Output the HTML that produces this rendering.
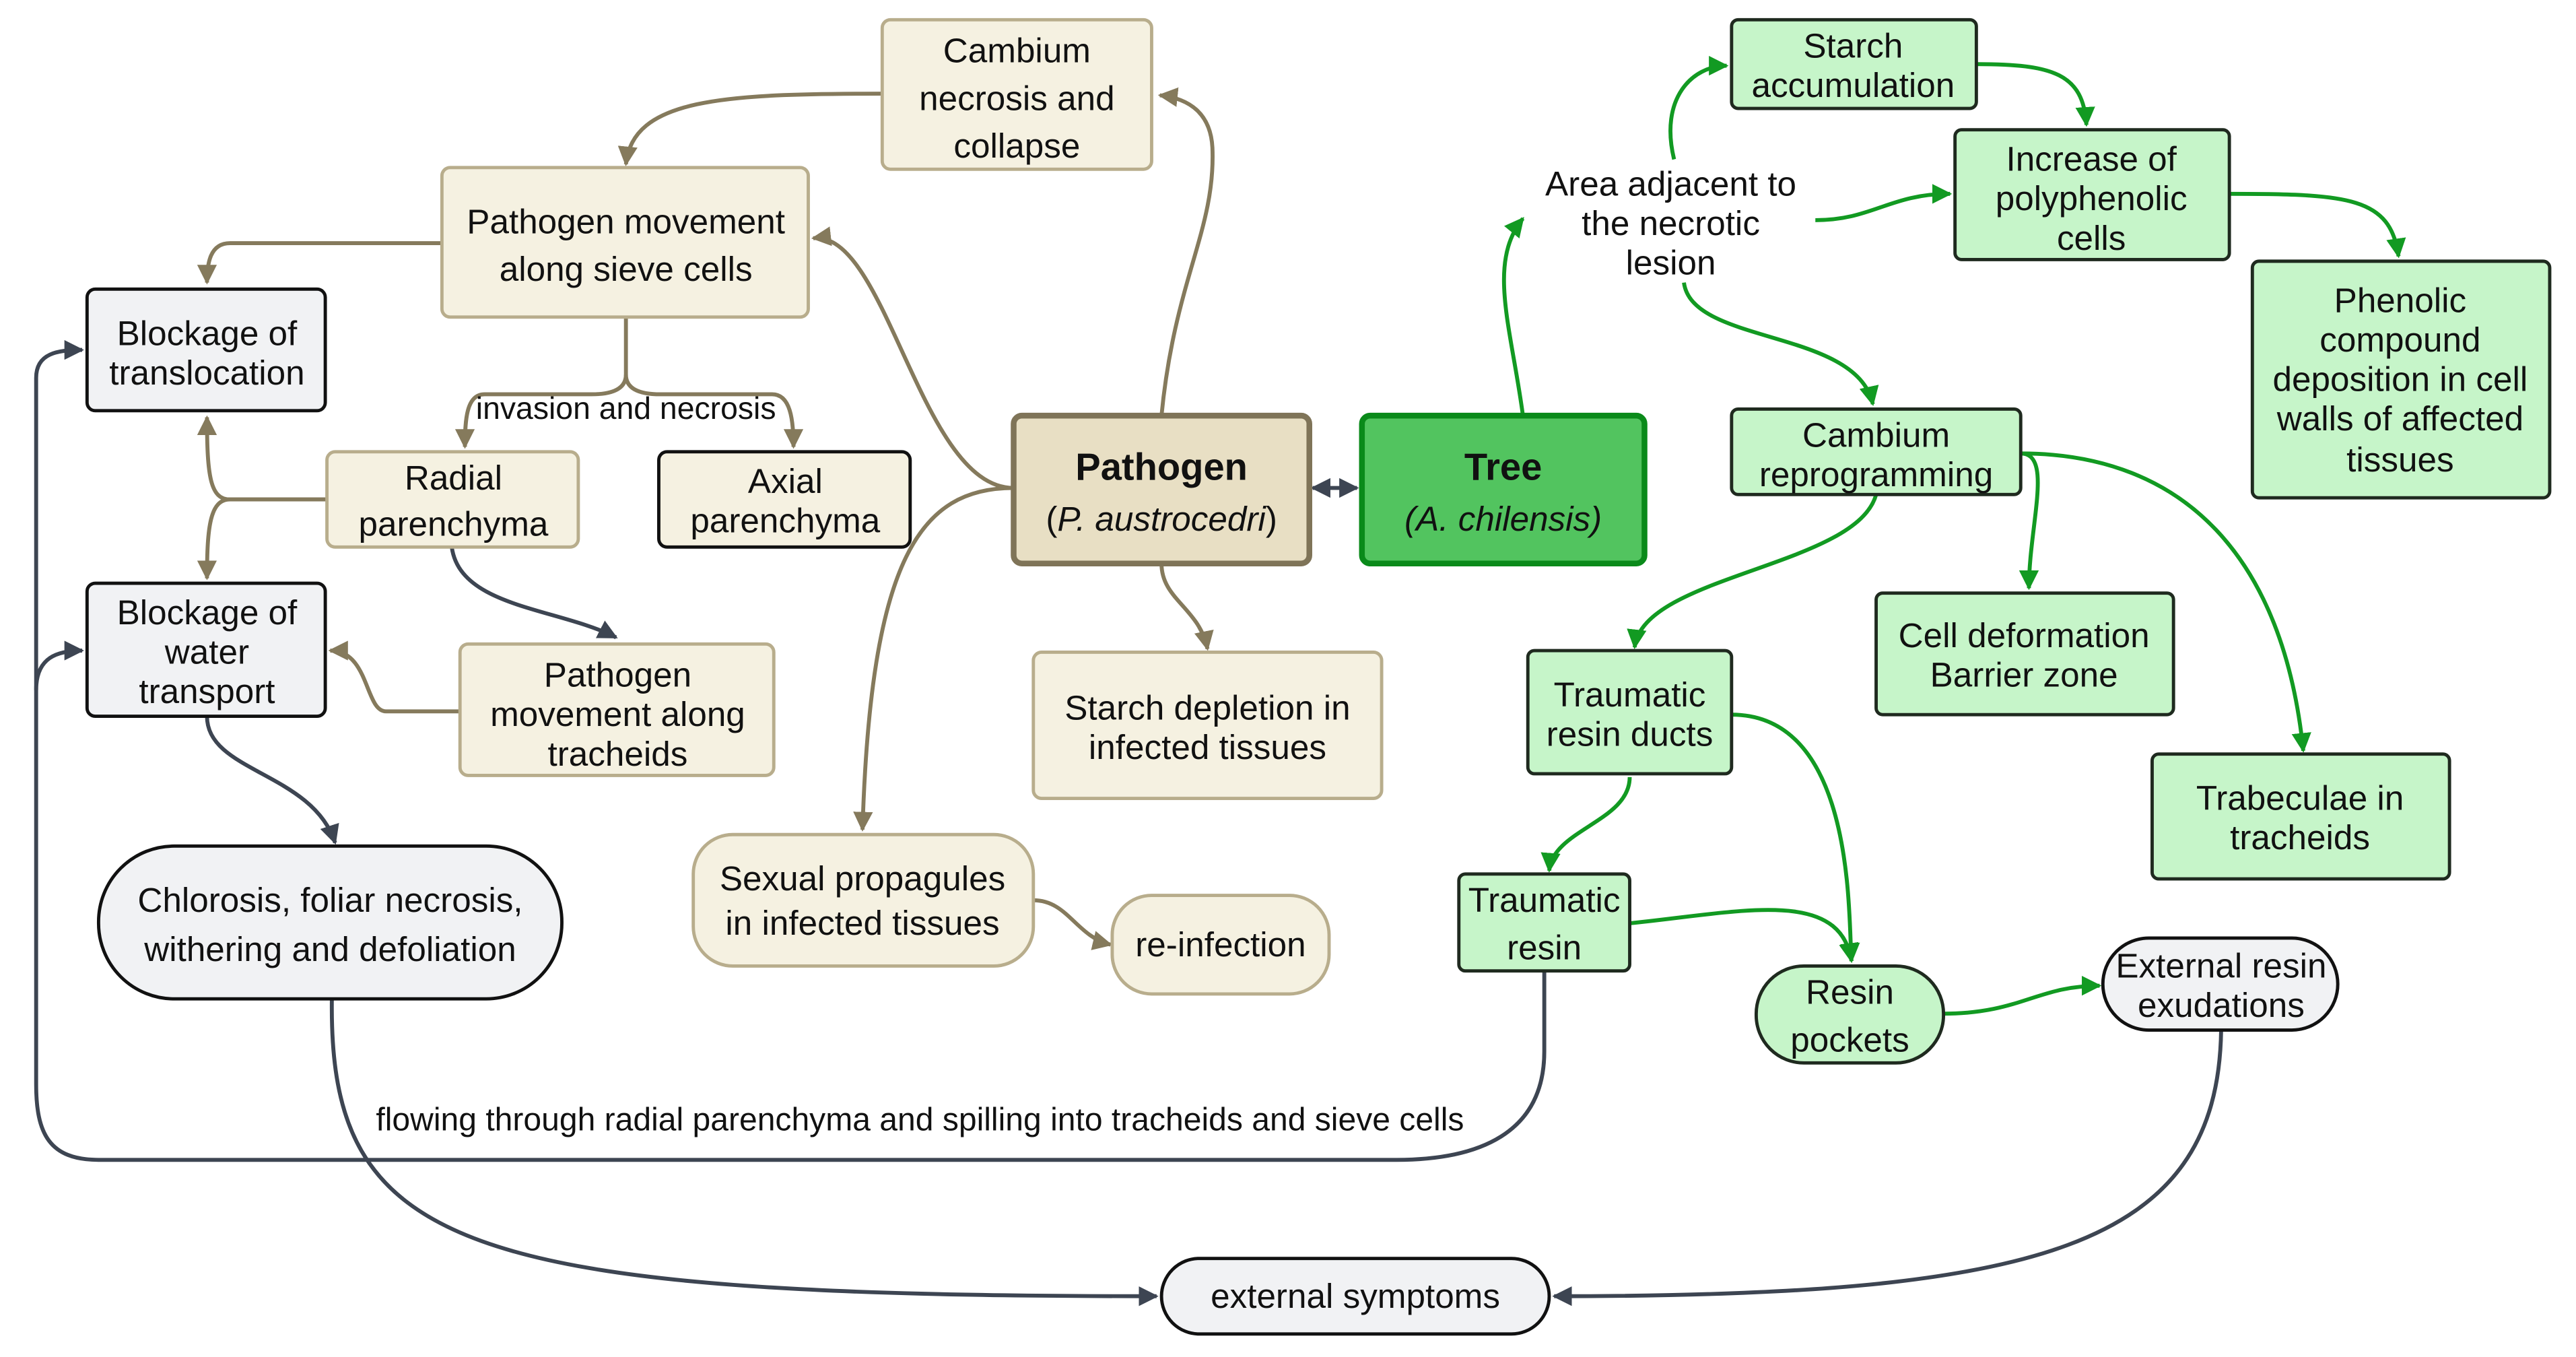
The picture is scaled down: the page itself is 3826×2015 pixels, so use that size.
<!DOCTYPE html>
<html><head><meta charset="utf-8"><style>
html,body{margin:0;padding:0;background:#fff;}
svg{display:block;}
text{font-family:"Liberation Sans",sans-serif;font-size:21px;fill:#111;text-anchor:middle;}
</style></head><body>
<svg width="3826" height="2015" viewBox="0 0 1568 826" preserveAspectRatio="none" xmlns="http://www.w3.org/2000/svg">
<defs>
<marker id="t" viewBox="0 0 10 10" refX="9" refY="5" markerWidth="5" markerHeight="5" orient="auto-start-reverse"><path d="M0,0 L10,5 L0,10 z" fill="#857a5c"/></marker>
<marker id="g" viewBox="0 0 10 10" refX="9" refY="5" markerWidth="5" markerHeight="5" orient="auto-start-reverse"><path d="M0,0 L10,5 L0,10 z" fill="#129a22"/></marker>
<marker id="d" viewBox="0 0 10 10" refX="9" refY="5" markerWidth="5" markerHeight="5" orient="auto-start-reverse"><path d="M0,0 L10,5 L0,10 z" fill="#3d4552"/></marker>
</defs>
<g fill="none" stroke-width="2.4">
<g stroke="#857a5c" marker-end="url(#t)">
<path d="M537,57 C440,57 385,60 381,100"/>
<path d="M707,253 C715,170 740,140 738,90 C737,70 725,60 706,58"/>
<path d="M617,297 C560,297 540,140 495,145"/>
<path d="M269,148 L140,148 C128,148 126,160 126,172"/>
<path d="M381,193 L381,228 C381,238 370,240 360,240 L295,240 C284,240 283,255 283,272"/>
<path d="M381,228 C381,238 392,240 402,240 L470,240 C481,240 483,255 483,272"/>
<path d="M199,304 L140,304 C128,304 126,290 126,254"/>
<path d="M199,304 L140,304 C128,304 126,320 126,352"/>
<path d="M280,433 L235,433 C222,433 225,396 201,396"/>
<path d="M617,297 C560,297 530,340 525,505"/>
<path d="M707,343 C707,365 730,370 735,395"/>
<path d="M629,548 C650,548 655,570 676,575"/>
</g>
<g stroke="#3d4552">
<path d="M275,333 C280,370 340,370 375,388" marker-end="url(#d)"/>
<path d="M126,436 C126,470 190,470 204,513" marker-end="url(#d)"/>
<path d="M940,591 L940,640 C940,690 900,706 850,706 L60,706 C30,706 22,690 22,660 L22,230 C22,215 35,213 50,213" marker-end="url(#d)"/>
<path d="M22,420 C22,400 35,396 50,396" marker-end="url(#d)"/>
<path d="M202,608 C200,760 280,789 704,789" marker-end="url(#d)"/>
<path d="M1352,627 C1350,760 1240,789 946,789" marker-end="url(#d)"/>
<path d="M799,297 L826,297" marker-start="url(#d)" marker-end="url(#d)"/>
</g>
<g stroke="#129a22" marker-end="url(#g)">
<path d="M927,253 C920,200 905,160 927,133"/>
<path d="M1019,97 C1010,60 1030,40 1051,40"/>
<path d="M1203,39 C1250,39 1268,45 1270,76"/>
<path d="M1105,134 C1140,134 1150,118 1187,118"/>
<path d="M1357,118 C1430,118 1455,120 1460,156"/>
<path d="M1025,172 C1030,210 1130,200 1140,246"/>
<path d="M1142,301 C1130,345 1000,350 995,394"/>
<path d="M1230,276 C1250,276 1235,320 1235,358"/>
<path d="M1230,276 C1330,276 1390,340 1402,457"/>
<path d="M992,473 C992,500 945,505 943,530"/>
<path d="M1054,435 C1130,435 1125,560 1127,585"/>
<path d="M992,562 C1060,555 1120,540 1127,585"/>
<path d="M1183,617 C1230,617 1240,600 1278,600"/>
</g>
</g>
<g fill="#f5f1e1" stroke="#b8ad8c" stroke-width="2">
<rect x="537" y="12" width="164" height="91" rx="5"/>
<rect x="269" y="102" width="223" height="91" rx="5"/>
<rect x="199" y="275" width="153" height="58" rx="5"/>
<rect x="280" y="392" width="191" height="80" rx="5"/>
<rect x="629" y="397" width="212" height="89" rx="5"/>
<rect x="422" y="508" width="207" height="80" rx="24"/>
<rect x="677" y="545" width="132" height="60" rx="24"/>
</g>
<rect x="401" y="275" width="153" height="58" rx="5" fill="#f5f1e1" stroke="#111" stroke-width="2"/>
<rect x="617" y="253" width="180" height="90" rx="5" fill="#e8dfc4" stroke="#7f7458" stroke-width="3.5"/>
<rect x="829" y="253" width="172" height="90" rx="5" fill="#52c45f" stroke="#0a8a1a" stroke-width="3.5"/>
<g fill="#f1f2f4" stroke="#111" stroke-width="2">
<rect x="53" y="176" width="145" height="74" rx="5"/>
<rect x="53" y="355" width="145" height="81" rx="5"/>
<rect x="60" y="515" width="282" height="93" rx="46"/>
<rect x="707" y="766" width="236" height="46" rx="23"/>
<rect x="1280" y="571" width="143" height="56" rx="28"/>
</g>
<g fill="#c6f5c9" stroke="#1f2a1f" stroke-width="2">
<rect x="1054" y="12" width="149" height="54" rx="4"/>
<rect x="1190" y="79" width="167" height="79" rx="4"/>
<rect x="1371" y="159" width="181" height="144" rx="4"/>
<rect x="1054" y="249" width="176" height="52" rx="4"/>
<rect x="1142" y="361" width="181" height="74" rx="4"/>
<rect x="930" y="396" width="124" height="75" rx="4"/>
<rect x="1310" y="459" width="181" height="76" rx="4"/>
<rect x="888" y="532" width="104" height="59" rx="4"/>
<rect x="1069" y="588" width="114" height="59" rx="29"/>
</g>
<text x="619" y="38">Cambium</text><text x="619" y="67">necrosis and</text><text x="619" y="96">collapse</text>
<text x="381" y="142">Pathogen movement</text><text x="381" y="171">along sieve cells</text>
<text x="126" y="210">Blockage of</text><text x="126" y="234">translocation</text>
<text x="381" y="255" style="font-size:19px">invasion and necrosis</text>
<text x="276" y="298">Radial</text><text x="276" y="326">parenchyma</text>
<text x="478" y="300">Axial</text><text x="478" y="324">parenchyma</text>
<text x="126" y="380">Blockage of</text><text x="126" y="404">water</text><text x="126" y="428">transport</text>
<text x="376" y="418">Pathogen</text><text x="376" y="442">movement along</text><text x="376" y="466">tracheids</text>
<text x="707" y="292" style="font-weight:bold;font-size:23px">Pathogen</text>
<text x="707" y="323">(<tspan font-style="italic">P. austrocedri</tspan>)</text>
<text x="915" y="292" style="font-weight:bold;font-size:23px">Tree</text>
<text x="915" y="323" font-style="italic">(A. chilensis)</text>
<text x="735" y="438">Starch depletion in</text><text x="735" y="462">infected tissues</text>
<text x="525" y="542">Sexual propagules</text><text x="525" y="569">in infected tissues</text>
<text x="743" y="582">re-infection</text>
<text x="201" y="555">Chlorosis, foliar necrosis,</text><text x="201" y="585">withering and defoliation</text>
<text x="825" y="796">external symptoms</text>
<text x="560" y="688" style="font-size:19.7px">flowing through radial parenchyma and spilling into tracheids and sieve cells</text>
<text x="1017" y="119">Area adjacent to</text><text x="1017" y="143">the necrotic</text><text x="1017" y="167">lesion</text>
<text x="1128" y="35">Starch</text><text x="1128" y="59">accumulation</text>
<text x="1273" y="104">Increase of</text><text x="1273" y="128">polyphenolic</text><text x="1273" y="152">cells</text>
<text x="1461" y="190">Phenolic</text><text x="1461" y="214">compound</text><text x="1461" y="238">deposition in cell</text><text x="1461" y="262">walls of affected</text><text x="1461" y="287">tissues</text>
<text x="1142" y="272">Cambium</text><text x="1142" y="296">reprogramming</text>
<text x="1232" y="394">Cell deformation</text><text x="1232" y="418">Barrier zone</text>
<text x="992" y="430">Traumatic</text><text x="992" y="454">resin ducts</text>
<text x="1400" y="493">Trabeculae in</text><text x="1400" y="517">tracheids</text>
<text x="940" y="555">Traumatic</text><text x="940" y="584">resin</text>
<text x="1126" y="611">Resin</text><text x="1126" y="640">pockets</text>
<text x="1352" y="595">External resin</text><text x="1352" y="619">exudations</text>
</svg>
</body></html>
